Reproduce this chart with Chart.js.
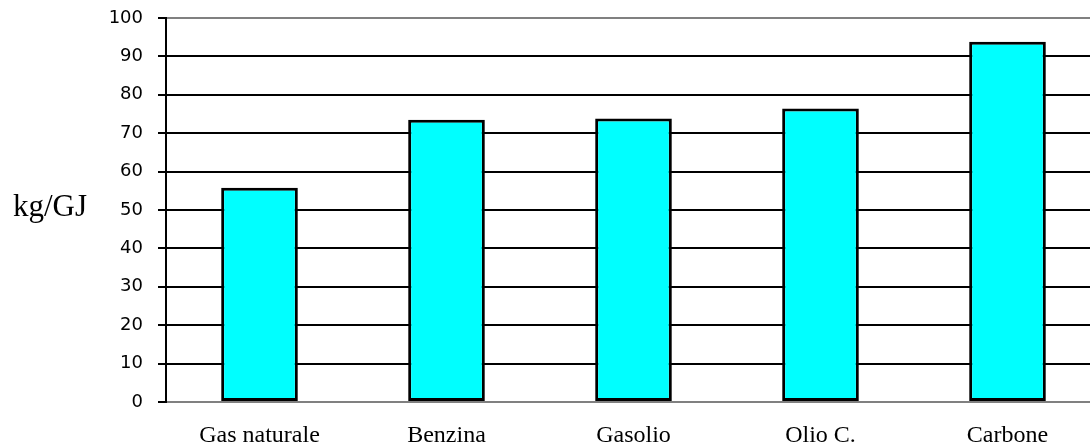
<!DOCTYPE html>
<html>
<head>
<meta charset="utf-8">
<script src="https://cdn.jsdelivr.net/npm/chart.js@4/dist/chart.umd.min.js"></script>
<style>
  html, body { margin: 0; padding: 0; background: #fff; overflow: hidden; }
  #wrap { width: 1101px; height: 445px; position: relative; }
</style>
</head>
<body>
<div id="wrap"><canvas id="fuelChart" width="1101" height="445"></canvas></div>
<script>
// CO2 emission factors per fuel
const categories = ["Gas naturale", "Benzina", "Gasolio", "Olio C.", "Carbone"];
const values = [55.8, 73.5, 73.8, 76.4, 93.8];
const yTicks = [0, 10, 20, 30, 40, 50, 60, 70, 80, 90, 100];
const yLabel = "kg/GJ";

// Horizontal y label (drawn on canvas, not rotated)
const yLabelPlugin = {
  id: "yLabel",
  afterDraw(chart) {
    const c = chart.ctx;
    c.save();
    c.font = "31px 'Liberation Serif', 'Times New Roman', serif";
    c.fillStyle = "#000";
    c.textAlign = "left";
    c.textBaseline = "alphabetic";
    c.fillText(yLabel, 13, 216);
    c.restore();
  },
};

const ctx = document.getElementById("fuelChart").getContext("2d");
const fuelChart = new Chart(ctx, {
  type: "bar",
  data: {
    labels: categories,
    datasets: [
      {
        data: values,
        backgroundColor: "#00FFFF",
        borderColor: "#000000",
        borderWidth: 3,
        borderSkipped: false,
        barPercentage: 0.41,
        categoryPercentage: 1,
      },
    ],
  },
  options: {
    responsive: false,
    animation: false,
    layout: { padding: { top: 18, left: 0, right: 0, bottom: 0 } },
    plugins: {
      legend: { display: false },
      tooltip: { enabled: false },
    },
    scales: {
      y: {
        min: 0,
        max: 100,
        afterBuildTicks: (axis) => {
          axis.ticks = yTicks.map((v) => ({ value: v }));
        },
        afterFit: (axis) => {
          axis.width = 166;
          axis.paddingTop = 0;
          axis.paddingBottom = 0;
        },
        border: { color: "#000", width: 2 },
        grid: {
          color: (c) =>
            c.tick && (c.tick.value === 0 || c.tick.value === 100) ? "#808080" : "#000",
          lineWidth: 2,
          tickLength: 8,
          tickColor: "#000",
        },
        ticks: {
          color: "#000",
          padding: 15,
          font: { family: "'DejaVu Sans', Verdana, sans-serif", size: 18 },
        },
      },
      x: {
        afterFit: (axis) => {
          axis.height = 43;
        },
        border: { display: false },
        grid: { display: false, drawTicks: false },
        ticks: {
          color: "#000",
          padding: 19,
          maxRotation: 0,
          font: { family: "'Liberation Serif', 'Times New Roman', serif", size: 24 },
        },
      },
    },
  },
  plugins: [yLabelPlugin],
});
</script>
</body>
</html>
